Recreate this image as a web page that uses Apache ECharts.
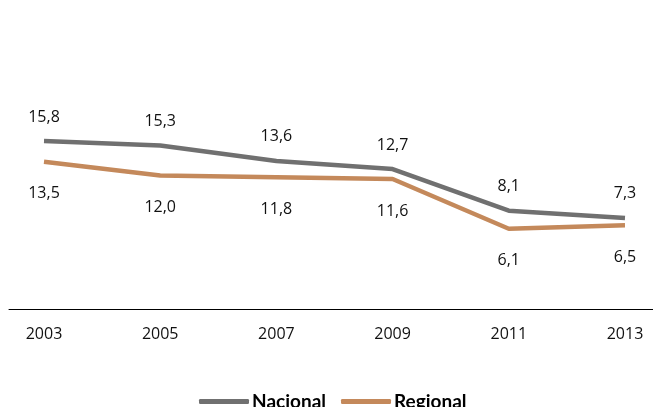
<!DOCTYPE html>
<html><head><meta charset="utf-8">
<script src="https://cdn.jsdelivr.net/npm/echarts@6/dist/echarts.min.js"></script>
<style>html,body{margin:0;padding:0;background:#fff}#c{width:653px;height:407px}</style>
</head><body><div id="c"></div>
<script>
var years = ['2003','2005','2007','2009','2011','2013'];
var nacional = [15.8, 15.3, 13.6, 12.7, 8.1, 7.3];
var regional = [13.5, 12.0, 11.8, 11.6, 6.1, 6.5];
var fmt = function(p){ return String(p.value.toFixed(1)).replace('.', ','); };
var chart = echarts.init(document.getElementById('c'), null, {renderer:'canvas'});
chart.setOption({
  animation:false,
  backgroundColor:'#fff',
  textStyle:{fontFamily:'Open Sans'},
  grid:[
    {left:44, right:28, top:103, bottom:123},
    {left:9, right:0, top:309, height:0}
  ],
  xAxis:[
    {type:'category', data:years, boundaryGap:false, gridIndex:0,
     axisLine:{show:false}, axisTick:{show:false},
     axisLabel:{margin:42, fontSize:16, color:'#111', fontFamily:'Open Sans'}},
    {type:'value', gridIndex:1, min:0, max:1, axisLine:{show:true, lineStyle:{color:'#000', width:1}},
     axisTick:{show:false}, axisLabel:{show:false}, splitLine:{show:false}}
  ],
  yAxis:[
    {type:'value', min:0, max:20, gridIndex:0, show:false},
    {type:'value', gridIndex:1, show:false}
  ],
  legend:{
    left:194, top:387, itemWidth:50, itemHeight:5, itemGap:15,
    icon:'roundRect',
    textStyle:{fontFamily:'Lato', fontWeight:'bold', fontSize:19, color:'#000', padding:[0,0,0,-2]},
    data:['Nacional','Regional']
  },
  series:[
    {name:'Nacional', type:'line', data:nacional, symbol:'circle', symbolSize:0.1, showSymbol:true, color:'#707070',
     lineStyle:{width:4.5, color:'#707070'},
     label:{show:true, position:'top', distance:16, fontSize:16, color:'#111', formatter:fmt}},
    {name:'Regional', type:'line', data:regional, symbol:'circle', symbolSize:0.1, showSymbol:true, color:'#c4895b',
     lineStyle:{width:4.5, color:'#c4895b'},
     label:{show:true, position:'bottom', distance:24, fontSize:16, color:'#111', formatter:fmt}}
  ]
});
</script></body></html>
